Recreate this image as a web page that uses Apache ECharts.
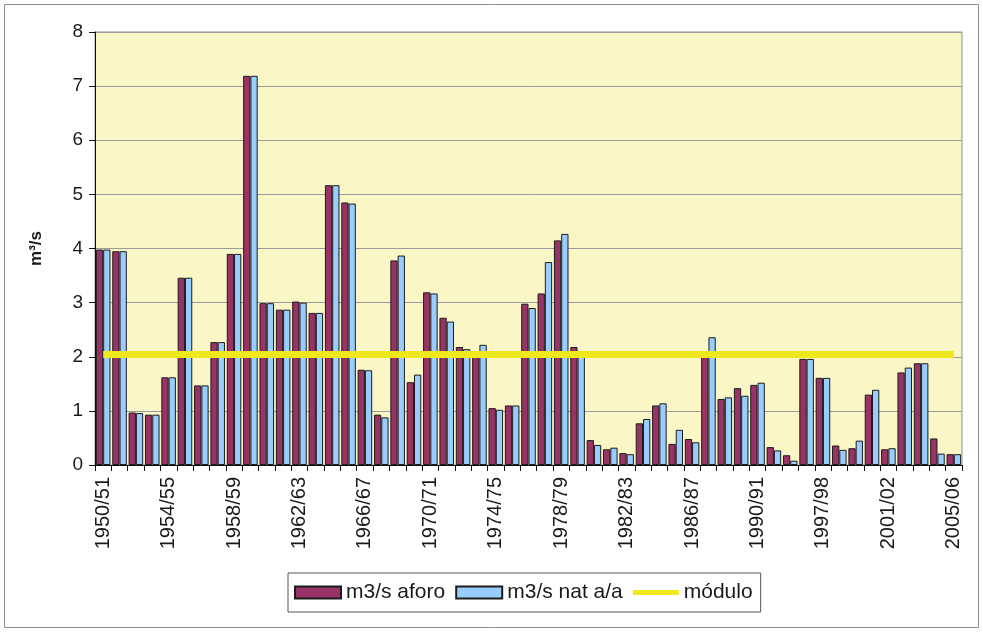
<!DOCTYPE html>
<html>
<head>
<meta charset="utf-8">
<title>Caudales anuales</title>
<script src="https://cdn.jsdelivr.net/npm/echarts@6/dist/echarts.min.js"></script>
<style>
  html, body { margin: 0; padding: 0; background: #ffffff; }
  #chart { width: 983px; height: 632px; }
</style>
</head>
<body>
<div id="chart"></div>
<script>
// Hydrological years shown on the category axis
const years = [
  '1950/51','1951/52','1952/53','1953/54','1954/55','1955/56','1956/57','1957/58',
  '1958/59','1959/60','1960/61','1961/62','1962/63','1963/64','1964/65','1965/66',
  '1966/67','1967/68','1968/69','1969/70','1970/71','1971/72','1972/73','1973/74',
  '1974/75','1975/76','1976/77','1977/78','1978/79','1979/80','1980/81','1981/82',
  '1982/83','1983/84','1984/85','1985/86','1986/87','1987/88','1988/89','1989/90',
  '1990/91','1991/92','1992/93','1996/97','1997/98','1998/99','1999/00','2000/01',
  '2001/02','2002/03','2003/04','2004/05','2005/06'
];

// Gauged mean annual flow (m3/s)
const aforo = [
  3.98, 3.95, 0.97, 0.93, 1.62, 3.46, 1.47, 2.27,
  3.90, 7.19, 2.99, 2.87, 3.02, 2.81, 5.17, 4.85,
  1.76, 0.93, 3.78, 1.53, 3.19, 2.72, 2.18, 2.05,
  1.05, 1.10, 2.98, 3.17, 4.15, 2.18, 0.46, 0.29,
  0.22, 0.77, 1.10, 0.39, 0.48, 2.05, 1.22, 1.42,
  1.48, 0.33, 0.18, 1.96, 1.61, 0.36, 0.31, 1.30,
  0.29, 1.71, 1.88, 0.49, 0.20
];

// Restored natural flow, year by year (m3/s)
const natural = [
  3.98, 3.95, 0.96, 0.93, 1.62, 3.46, 1.47, 2.27,
  3.90, 7.19, 2.99, 2.87, 3.00, 2.81, 5.17, 4.83,
  1.75, 0.88, 3.87, 1.67, 3.17, 2.65, 2.14, 2.22,
  1.02, 1.10, 2.90, 3.75, 4.27, 2.00, 0.37, 0.32,
  0.20, 0.85, 1.14, 0.65, 0.42, 2.36, 1.25, 1.28,
  1.52, 0.27, 0.08, 1.96, 1.61, 0.28, 0.45, 1.39,
  0.31, 1.80, 1.88, 0.21, 0.20
];

// Long-term mean flow (módulo), m3/s
const modulo = 2.04;

// Value axis ticks
const yTicks = { min: 0, max: 8, step: 1 };

const FONT = '"Liberation Sans", Arial, sans-serif';

const chart = echarts.init(document.getElementById('chart'), null, { renderer: 'canvas' });

chart.setOption({
  animation: false,
  backgroundColor: '#ffffff',
  textStyle: { fontFamily: FONT, color: '#1a1a1a' },
  graphic: [{
    type: 'rect',
    shape: { x: 4.5, y: 4.5, width: 974, height: 623 },
    style: { fill: 'none', stroke: '#8c8c8c', lineWidth: 1 },
    silent: true,
    z: -1
  }],
  grid: {
    left: 95, right: 21, top: 32, bottom: 167,
    show: true,
    backgroundColor: '#faf6c6',
    borderColor: '#8f8f8f',
    borderWidth: 1
  },
  legend: {
    left: 288, top: 573,
    padding: [9, 8, 9, 6],
    itemWidth: 46, itemHeight: 12, itemGap: 10,
    borderColor: '#555555', borderWidth: 1,
    textStyle: { fontFamily: FONT, fontSize: 21, color: '#1a1a1a' },
    data: [
      { name: 'm3/s aforo', icon: 'rect' },
      { name: 'm3/s nat a/a', icon: 'rect' },
      { name: 'módulo', icon: 'path://M0,0H46V5H0Z', itemStyle: { color: '#f0e81e', borderWidth: 0 } }
    ]
  },
  xAxis: {
    type: 'category',
    data: years,
    boundaryGap: true,
    axisLine: { lineStyle: { color: '#111', width: 1 } },
    axisTick: { show: true, interval: 0, length: 6, lineStyle: { color: '#111' } },
    axisLabel: {
      interval: 3, rotate: 90, margin: 12,
      fontFamily: FONT, fontSize: 20, color: '#1a1a1a'
    },
    splitLine: { show: false }
  },
  yAxis: {
    type: 'value',
    min: yTicks.min, max: yTicks.max, interval: yTicks.step,
    name: 'm³/s',
    nameLocation: 'middle',
    nameRotate: 90,
    nameGap: 50,
    nameTextStyle: { fontFamily: FONT, fontSize: 17, fontWeight: 'bold', color: '#1a1a1a' },
    axisLine: { show: true, lineStyle: { color: '#111', width: 1 } },
    axisTick: { show: true, length: 6, lineStyle: { color: '#111' } },
    axisLabel: { margin: 12, fontFamily: FONT, fontSize: 19, color: '#1a1a1a' },
    splitLine: { show: true, lineStyle: { color: '#9b9b9b', width: 1 } }
  },
  series: [
    {
      name: 'm3/s aforo',
      type: 'bar',
      data: aforo,
      barGap: '0%',
      barCategoryGap: '11%',
      itemStyle: { color: '#993366', borderColor: '#1c1c1c', borderWidth: 1 }
    },
    {
      name: 'm3/s nat a/a',
      type: 'bar',
      data: natural,
      itemStyle: { color: '#99ccff', borderColor: '#1c1c1c', borderWidth: 1 }
    },
    {
      name: 'módulo',
      type: 'line',
      data: years.map(() => modulo),
      symbol: 'none',
      z: 5,
      lineStyle: { color: '#f0e81e', width: 7 },
      itemStyle: { color: '#f0e81e' }
    }
  ]
});
</script>
</body>
</html>
